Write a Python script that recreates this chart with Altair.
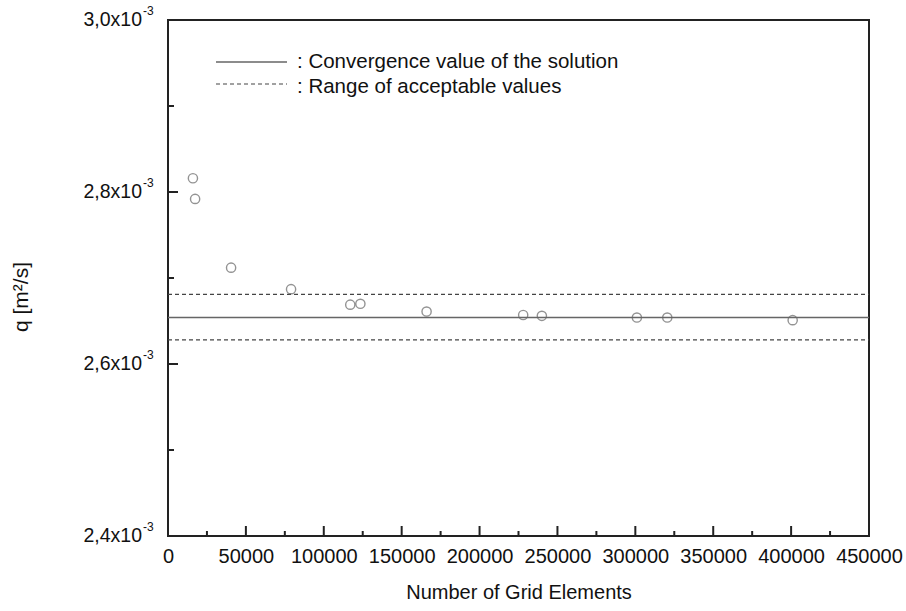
import altair as alt
import pandas as pd

# ---- data ----
grid_elements = [16000, 17400, 40500, 79000, 117000, 123500, 166000, 228000, 240000, 301000, 320500, 401000]
q_values = [2.816e-3, 2.792e-3, 2.712e-3, 2.687e-3, 2.669e-3, 2.670e-3, 2.661e-3,
            2.657e-3, 2.656e-3, 2.654e-3, 2.654e-3, 2.651e-3]

convergence_value = 2.654e-3
range_lower = 2.628e-3
range_upper = 2.681e-3

x_domain = [0, 450000]
y_domain = [2.4e-3, 3.0e-3]
x_major_ticks = [0, 50000, 100000, 150000, 200000, 250000, 300000, 350000, 400000, 450000]
x_minor_ticks = [25000, 75000, 125000, 175000, 225000, 275000, 325000, 375000, 425000]
y_major_ticks = [2.4e-3, 2.6e-3, 2.8e-3, 3.0e-3]
y_minor_ticks = [2.5e-3, 2.7e-3, 2.9e-3]
y_tick_labels = ["2,4x10", "2,6x10", "2,8x10", "3,0x10"]
y_tick_exponent = ["-3", "-3", "-3", "-3"]

legend_labels = [": Convergence value of the solution", ": Range of acceptable values"]
x_title = "Number of Grid Elements"
y_title = "q [m\u00b2/s]"

W, H = 701, 516
FONT = "Liberation Sans"

xs = alt.Scale(domain=x_domain, nice=False, zero=False)
ys = alt.Scale(domain=y_domain, nice=False, zero=False)

pts = pd.DataFrame({"n": grid_elements, "q": q_values})
lines = pd.DataFrame({
    "kind": ["solid", "dash", "dash"],
    "q": [convergence_value, range_upper, range_lower],
    "x0": [x_domain[0]] * 3,
    "x1": [x_domain[1]] * 3,
})

base_x = alt.X("n:Q", scale=xs,
               axis=alt.Axis(values=x_major_ticks, format="d", ticks=False, domain=False, grid=False,
                             labelOverlap=False, labelFlush=False, labelFontSize=20, labelFont=FONT,
                             labelColor="#111", labelPadding=10,
                             title=x_title, titleFont=FONT, titleFontSize=20, titleFontWeight="normal",
                             titleColor="#111", titlePadding=16))
base_y = alt.Y("q:Q", scale=ys,
               axis=alt.Axis(labels=False, ticks=False, domain=False, grid=False, title=None))

points = alt.Chart(pts).mark_point(shape="circle", filled=False, size=85, stroke="#666",
                                   strokeWidth=1.4).encode(x=base_x, y=base_y)

solid = alt.Chart(lines[lines.kind == "solid"]).mark_rule(color="#666", strokeWidth=1.5).encode(
    x=alt.X("x0:Q", scale=xs), x2="x1:Q", y=alt.Y("q:Q", scale=ys))
dashed = alt.Chart(lines[lines.kind == "dash"]).mark_rule(color="#444", strokeWidth=1.2,
                                                           strokeDash=[4, 3]).encode(
    x=alt.X("x0:Q", scale=xs), x2="x1:Q", y=alt.Y("q:Q", scale=ys))

# inward ticks
yt_major = alt.Chart(pd.DataFrame({"q": y_major_ticks})).mark_rule(color="#222", strokeWidth=2).encode(
    y=alt.Y("q:Q", scale=ys), x=alt.value(0), x2=alt.value(10))
yt_minor = alt.Chart(pd.DataFrame({"q": y_minor_ticks})).mark_rule(color="#222", strokeWidth=2).encode(
    y=alt.Y("q:Q", scale=ys), x=alt.value(0), x2=alt.value(6))
xt_major = alt.Chart(pd.DataFrame({"n": x_major_ticks})).mark_rule(color="#222", strokeWidth=2).encode(
    x=alt.X("n:Q", scale=xs), y=alt.value(H), y2=alt.value(H - 10))
xt_minor = alt.Chart(pd.DataFrame({"n": x_minor_ticks})).mark_rule(color="#222", strokeWidth=2).encode(
    x=alt.X("n:Q", scale=xs), y=alt.value(H), y2=alt.value(H - 5))

# y tick labels with superscript exponent
ylab_df = pd.DataFrame({"q": y_major_ticks, "t": y_tick_labels, "e": y_tick_exponent})
ylab = alt.Chart(ylab_df).mark_text(align="right", baseline="middle", font=FONT, fontSize=19.5,
                                    color="#111").encode(
    y=alt.Y("q:Q", scale=ys), x=alt.value(-26), text="t:N")
yexp = alt.Chart(ylab_df).mark_text(align="left", baseline="middle", font=FONT, fontSize=12,
                                    color="#111", dy=-9).encode(
    y=alt.Y("q:Q", scale=ys), x=alt.value(-25), text="e:N")

ytitle = alt.Chart(pd.DataFrame({"t": [y_title]})).mark_text(
    angle=270, align="center", baseline="middle", font=FONT, fontSize=21, color="#111").encode(
    x=alt.value(-146), y=alt.value(277), text="t:N")

# legend drawn inside the plot
leg_solid = alt.Chart(pd.DataFrame({"t": [legend_labels[0]]})).mark_rule(color="#666", strokeWidth=1.5).encode(
    x=alt.value(48), x2=alt.value(119), y=alt.value(42))
leg_dash = alt.Chart(pd.DataFrame({"t": [legend_labels[1]]})).mark_rule(color="#444", strokeWidth=1.2,
                                                                         strokeDash=[4, 3]).encode(
    x=alt.value(48), x2=alt.value(119), y=alt.value(64))
leg_t1 = alt.Chart(pd.DataFrame({"t": [legend_labels[0]]})).mark_text(
    align="left", baseline="middle", font=FONT, fontSize=20.5, color="#111").encode(
    x=alt.value(129), y=alt.value(42), text="t:N")
leg_t2 = alt.Chart(pd.DataFrame({"t": [legend_labels[1]]})).mark_text(
    align="left", baseline="middle", font=FONT, fontSize=20.5, color="#111").encode(
    x=alt.value(129), y=alt.value(67), text="t:N")

chart = alt.layer(
    solid, dashed, points, yt_major, yt_minor, xt_major, xt_minor, ylab, yexp, ytitle,
    leg_solid, leg_dash, leg_t1, leg_t2
).properties(
    width=W, height=H,
    autosize=alt.AutoSizeParams(type="none"),
    padding={"left": 168, "top": 20, "right": 906 - 168 - W, "bottom": 611 - 20 - H},
    background="white",
).configure_view(stroke="#222", strokeWidth=2)

chart.save("out.html", embed_options={"renderer": "svg", "actions": False})
